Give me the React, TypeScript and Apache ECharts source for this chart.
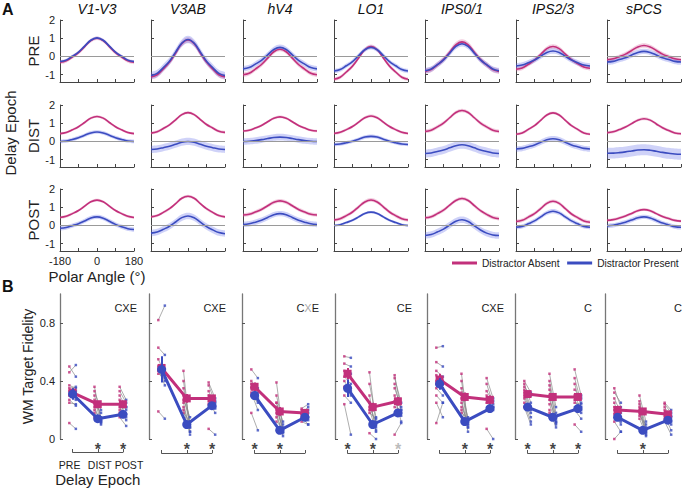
import React, { useEffect, useRef } from 'react';
import * as echarts from 'echarts';

// ---------------- DATA ----------------
const regions = ['V1-V3', 'V3AB', 'hV4', 'LO1', 'IPS0/1', 'IPS2/3', 'sPCS'];
const epochs = ['PRE', 'DIST', 'POST'];
const angles = [-180, -150, -120, -90, -60, -30, 0, 30, 60, 90, 120, 150, 180];
const angleTickLabels = ['-180', '0', '180'];
const tuningTicks = [-1, 0, 1, 2];
const fidelityTicks = [0, 0.4, 0.8];

// Panel A tuning curves (per region), Distractor Absent
const absentPre = [
  [-0.32, -0.24, -0.03, 0.21, 0.54, 0.87, 1.0, 0.87, 0.54, 0.21, -0.03, -0.24, -0.32],
  [-1.12, -1.0, -0.68, -0.31, 0.19, 0.7, 0.9, 0.7, 0.19, -0.31, -0.68, -1.0, -1.12],
  [-1.0, -0.92, -0.69, -0.44, -0.09, 0.26, 0.4, 0.26, -0.09, -0.44, -0.69, -0.92, -1.0],
  [-1.25, -1.14, -0.85, -0.53, -0.08, 0.37, 0.55, 0.37, -0.08, -0.53, -0.85, -1.14, -1.25],
  [-0.82, -0.72, -0.46, -0.17, 0.23, 0.64, 0.8, 0.64, 0.23, -0.17, -0.46, -0.72, -0.82],
  [-0.7, -0.63, -0.43, -0.2, 0.11, 0.43, 0.55, 0.43, 0.13, -0.17, -0.39, -0.58, -0.65],
  [-0.18, -0.13, -0.01, 0.13, 0.33, 0.52, 0.6, 0.52, 0.33, 0.13, -0.01, -0.13, -0.18],
];
const absentDist = [
  [0.43, 0.49, 0.64, 0.81, 1.04, 1.28, 1.37, 1.28, 1.04, 0.81, 0.64, 0.49, 0.43],
  [0.46, 0.53, 0.71, 0.91, 1.19, 1.47, 1.58, 1.47, 1.2, 0.93, 0.74, 0.56, 0.5],
  [0.57, 0.62, 0.74, 0.88, 1.08, 1.27, 1.35, 1.27, 1.08, 0.88, 0.74, 0.62, 0.57],
  [0.44, 0.5, 0.65, 0.82, 1.06, 1.3, 1.4, 1.3, 1.06, 0.82, 0.65, 0.5, 0.44],
  [0.55, 0.62, 0.8, 1.01, 1.3, 1.59, 1.7, 1.59, 1.3, 1.01, 0.8, 0.62, 0.55],
  [0.4, 0.47, 0.66, 0.87, 1.16, 1.45, 1.57, 1.45, 1.16, 0.87, 0.66, 0.47, 0.4],
  [0.48, 0.53, 0.65, 0.79, 0.98, 1.17, 1.25, 1.17, 0.96, 0.75, 0.6, 0.47, 0.42],
];
const absentPost = [
  [0.44, 0.5, 0.65, 0.82, 1.06, 1.3, 1.39, 1.3, 1.06, 0.82, 0.65, 0.5, 0.44],
  [0.47, 0.54, 0.72, 0.92, 1.2, 1.49, 1.6, 1.49, 1.2, 0.92, 0.72, 0.54, 0.47],
  [0.57, 0.62, 0.74, 0.88, 1.08, 1.27, 1.35, 1.27, 1.08, 0.88, 0.74, 0.62, 0.57],
  [0.3, 0.37, 0.54, 0.74, 1.02, 1.29, 1.4, 1.29, 1.02, 0.74, 0.54, 0.37, 0.3],
  [0.42, 0.48, 0.65, 0.84, 1.11, 1.37, 1.48, 1.37, 1.09, 0.81, 0.61, 0.44, 0.37],
  [0.22, 0.28, 0.46, 0.65, 0.92, 1.21, 1.33, 1.21, 0.92, 0.63, 0.43, 0.25, 0.18],
  [0.28, 0.32, 0.41, 0.52, 0.66, 0.81, 0.87, 0.81, 0.65, 0.49, 0.38, 0.28, 0.24],
];
// Distractor Present
const presentPre = [
  [-0.28, -0.2, 0.01, 0.24, 0.57, 0.89, 1.02, 0.89, 0.57, 0.24, 0.01, -0.2, -0.28],
  [-1.05, -0.93, -0.61, -0.26, 0.24, 0.73, 0.93, 0.73, 0.24, -0.26, -0.61, -0.93, -1.05],
  [-0.68, -0.61, -0.42, -0.21, 0.09, 0.38, 0.5, 0.38, 0.09, -0.21, -0.42, -0.61, -0.68],
  [-0.8, -0.72, -0.51, -0.28, 0.05, 0.37, 0.5, 0.37, 0.05, -0.28, -0.51, -0.72, -0.8],
  [-0.78, -0.69, -0.45, -0.19, 0.18, 0.55, 0.7, 0.55, 0.18, -0.19, -0.45, -0.69, -0.78],
  [-0.52, -0.47, -0.34, -0.19, 0.01, 0.22, 0.3, 0.22, 0.01, -0.19, -0.34, -0.47, -0.52],
  [-0.3, -0.27, -0.17, -0.07, 0.08, 0.22, 0.28, 0.22, 0.08, -0.07, -0.17, -0.27, -0.3],
];
const presentDist = [
  [0.0, 0.03, 0.11, 0.21, 0.34, 0.47, 0.52, 0.47, 0.34, 0.21, 0.11, 0.03, 0.0],
  [-0.44, -0.41, -0.34, -0.26, -0.15, -0.04, 0.0, -0.04, -0.15, -0.26, -0.34, -0.41, -0.44],
  [0.0, 0.01, 0.05, 0.1, 0.16, 0.22, 0.24, 0.22, 0.16, 0.1, 0.05, 0.01, 0.0],
  [-0.17, -0.14, -0.07, 0.01, 0.12, 0.24, 0.28, 0.24, 0.12, 0.01, -0.07, -0.14, -0.17],
  [-0.66, -0.63, -0.55, -0.47, -0.35, -0.23, -0.18, -0.23, -0.35, -0.47, -0.55, -0.63, -0.66],
  [-0.41, -0.38, -0.29, -0.19, -0.05, 0.09, 0.15, 0.09, -0.05, -0.19, -0.29, -0.38, -0.41],
  [-0.65, -0.64, -0.61, -0.57, -0.52, -0.47, -0.45, -0.48, -0.54, -0.6, -0.65, -0.69, -0.7],
];
const presentPost = [
  [-0.15, -0.11, -0.01, 0.1, 0.25, 0.41, 0.47, 0.4, 0.23, 0.06, -0.07, -0.18, -0.22],
  [-0.42, -0.36, -0.21, -0.04, 0.19, 0.43, 0.52, 0.42, 0.18, -0.06, -0.24, -0.39, -0.45],
  [0.05, 0.09, 0.18, 0.29, 0.44, 0.59, 0.65, 0.59, 0.44, 0.29, 0.18, 0.09, 0.05],
  [0.0, 0.04, 0.16, 0.29, 0.47, 0.66, 0.73, 0.66, 0.47, 0.29, 0.16, 0.04, 0.0],
  [-0.55, -0.5, -0.36, -0.2, 0.02, 0.23, 0.31, 0.22, -0.02, -0.25, -0.42, -0.52, -0.55],
  [-0.1, -0.05, 0.09, 0.25, 0.47, 0.69, 0.78, 0.69, 0.47, 0.25, 0.09, -0.05, -0.1],
  [-0.02, 0.01, 0.09, 0.18, 0.3, 0.42, 0.47, 0.41, 0.27, 0.13, 0.03, -0.07, -0.1],
];
// half-width of the shaded error band, per epoch row, per region
const bandAbsent = [
  [0.1, 0.15, 0.12, 0.1, 0.15, 0.12, 0.12],
  [0.07, 0.08, 0.07, 0.08, 0.1, 0.08, 0.08],
  [0.07, 0.08, 0.1, 0.1, 0.1, 0.1, 0.08],
];
const bandPresent = [
  [0.08, 0.2, 0.15, 0.12, 0.15, 0.15, 0.15],
  [0.1, 0.2, 0.18, 0.1, 0.22, 0.15, 0.3],
  [0.12, 0.18, 0.15, 0.07, 0.18, 0.12, 0.12],
];

// Panel B: WM target fidelity means [PRE, DIST, POST] per region
const meanAbsent = [
  [0.32, 0.24, 0.24], [0.49, 0.28, 0.28], [0.36, 0.19, 0.18], [0.45, 0.22, 0.26],
  [0.41, 0.29, 0.27], [0.31, 0.29, 0.29], [0.2, 0.19, 0.17],
];
const meanPresent = [
  [0.31, 0.14, 0.17], [0.48, 0.1, 0.23], [0.3, 0.06, 0.15], [0.35, 0.1, 0.18],
  [0.38, 0.12, 0.21], [0.22, 0.15, 0.21], [0.15, 0.06, 0.13],
];
const semAbsent = [
  [0.03, 0.02, 0.02], [0.04, 0.03, 0.02], [0.03, 0.03, 0.02], [0.04, 0.03, 0.03],
  [0.04, 0.03, 0.03], [0.02, 0.02, 0.02], [0.03, 0.02, 0.02],
];
const semPresent = [
  [0.04, 0.02, 0.02], [0.09, 0.02, 0.02], [0.03, 0.02, 0.02], [0.06, 0.02, 0.02],
  [0.04, 0.02, 0.02], [0.02, 0.02, 0.02], [0.02, 0.02, 0.02],
];
// individual subjects [region][epoch][subject]
const subjAbsent = [
  [[0.5, 0.46, 0.37, 0.35, 0.33, 0.3, 0.27, 0.25, 0.11], [0.36, 0.33, 0.3, 0.27, 0.24, 0.22, 0.2, 0.18, 0.15], [0.36, 0.33, 0.3, 0.27, 0.24, 0.22, 0.2, 0.18, 0.15]],
  [[0.82, 0.63, 0.55, 0.5, 0.47, 0.45, 0.48, 0.19], [0.47, 0.4, 0.35, 0.3, 0.27, 0.25, 0.22, 0.2, 0.18], [0.39, 0.37, 0.33, 0.3, 0.28, 0.26, 0.24, 0.07]],
  [[0.48, 0.4, 0.38, 0.36, 0.35, 0.3, 0.32, 0.18], [0.39, 0.3, 0.25, 0.22, 0.2, 0.18, 0.15, 0.12, 0.25], [0.21, 0.18, 0.17, 0.15, 0.14, 0.12, 0.2, 0.17]],
  [[0.57, 0.52, 0.47, 0.43, 0.4, 0.36, 0.3, 0.24], [0.46, 0.38, 0.3, 0.25, 0.22, 0.2, 0.18, 0.04], [0.44, 0.42, 0.38, 0.35, 0.3, 0.26, 0.22, 0.03]],
  [[0.63, 0.53, 0.47, 0.44, 0.4, 0.38, 0.35, 0.3, 0.25, 0.11], [0.45, 0.4, 0.35, 0.32, 0.28, 0.25, 0.22, 0.2, 0.18], [0.42, 0.38, 0.33, 0.3, 0.28, 0.25, 0.07]],
  [[0.4, 0.38, 0.36, 0.34, 0.32, 0.3, 0.28, 0.25, 0.22], [0.45, 0.4, 0.37, 0.34, 0.3, 0.27, 0.24, 0.2, 0.18], [0.48, 0.42, 0.38, 0.34, 0.3, 0.27, 0.25, 0.2, 0.1]],
  [[0.35, 0.32, 0.28, 0.25, 0.22, 0.2, 0.17, 0.12, 0.0], [0.3, 0.26, 0.24, 0.22, 0.2, 0.18, 0.16, 0.14], [0.25, 0.24, 0.22, 0.2, 0.18, 0.16, 0.14, 0.12]],
];
const subjPresent = [
  [[0.43, 0.51, 0.35, 0.36, 0.33, 0.27, 0.23, 0.24, 0.07], [0.13, 0.2, 0.15, 0.12, 0.18, 0.11, 0.13, 0.1, 0.12], [0.27, 0.25, 0.22, 0.2, 0.17, 0.13, 0.22, 0.15, 0.09]],
  [[0.92, 0.58, 0.45, 0.48, 0.4, 0.42, 0.37, 0.14], [0.05, 0.08, 0.12, 0.1, 0.15, 0.05, 0.08, 0.03, 0.12], [0.28, 0.25, 0.23, 0.21, 0.26, 0.18, 0.22, 0.03]],
  [[0.42, 0.35, 0.3, 0.32, 0.28, 0.25, 0.2, 0.06], [0.05, 0.1, 0.04, 0.06, 0.08, 0.02, 0.05, 0.07, 0.12], [0.24, 0.22, 0.13, 0.1, 0.2, 0.1, 0.15, 0.18]],
  [[0.56, 0.5, 0.45, 0.38, 0.33, 0.3, 0.25, 0.03], [0.1, 0.15, 0.05, 0.08, 0.12, 0.06, 0.14, 0.0], [0.2, 0.25, 0.18, 0.22, 0.12, 0.16, 0.2, 0.11]],
  [[0.64, 0.5, 0.43, 0.4, 0.35, 0.38, 0.3, 0.25, 0.15, 0.25], [0.1, 0.12, 0.08, 0.15, 0.05, 0.1, 0.12, 0.08, 0.14], [0.28, 0.24, 0.26, 0.22, 0.2, 0.22, 0.0]],
  [[0.32, 0.25, 0.3, 0.22, 0.2, 0.18, 0.15, 0.12, 0.1], [0.22, 0.18, 0.12, 0.15, 0.1, 0.14, 0.11, 0.08, 0.12], [0.3, 0.25, 0.22, 0.28, 0.2, 0.18, 0.24, 0.14, 0.05]],
  [[0.22, 0.25, 0.18, 0.12, 0.15, 0.1, 0.14, 0.05, 0.05], [0.12, 0.08, 0.04, 0.06, 0.02, 0.05, 0.1, 0.03], [0.2, 0.18, 0.15, 0.1, 0.12, 0.06, 0.16, 0.03]],
];
// significance stars per epoch: '' none, 'k' black, 'g' grey
const stars = [
  ['', 'k', 'k'], ['', 'k', 'k'], ['k', 'k', ''], ['k', 'k', 'g'],
  ['', 'k', 'k'], ['k', 'k', 'k'], ['', 'k', ''],
];
// effect labels (C, X, E); greyX marks a grey X
const effects = ['CXE', 'CXE', 'CXE', 'CE', 'CXE', 'C', 'C'];
const greyX = [false, false, true, false, false, false, false];

// ---------------- LAYOUT / STYLE ----------------
const RED = '#c2307b';
const BLUE = '#3b4cc0';
const RED_BAND = 'rgba(212, 88, 150, 0.30)';
const BLUE_BAND = 'rgba(95, 105, 232, 0.30)';
const AXIS = '#444';
const FONT = '"Liberation Sans", Arial, Helvetica, sans-serif';
const aLeft = [60, 151, 243, 334, 425, 516, 607];
const aTop = [20, 105, 189];
const aW = 74;
const aH = 62;
const bLeft = [60, 149, 242, 335, 427, 515, 605];
const bTop = 294;
const bH = 145;
const bW = 78;
const jitter = 0.13;

function buildOption() {
  const grid: any[] = [];
  const xAxis: any[] = [];
  const yAxis: any[] = [];
  const series: any[] = [];
  const graphic: any[] = [];
  const curvesA = [absentPre, absentDist, absentPost];
  const curvesP = [presentPre, presentDist, presentPost];

  // ---- Panel A ----
  for (let r = 0; r < 3; r++) {
    for (let c = 0; c < 7; c++) {
      const gi = grid.length;
      grid.push({ left: aLeft[c], top: aTop[r], width: aW, height: aH });
      const showX = r === 2 && c === 0;
      xAxis.push({
        gridIndex: gi, type: 'category', data: angles.map(String), boundaryGap: false,
        axisLine: { show: true, onZero: false, lineStyle: { color: AXIS, width: 1 } },
        axisTick: { show: true, inside: true, length: 3, interval: 2, lineStyle: { color: AXIS } },
        axisLabel: {
          show: showX, interval: 2, fontSize: 11, color: '#222', margin: 4, fontFamily: FONT,
          formatter: (v: string) => (angleTickLabels.indexOf(v) >= 0 ? v : ''),
        },
        splitLine: { show: false },
        name: showX ? 'Polar Angle (°)' : '', nameLocation: 'middle', nameGap: 18,
        nameTextStyle: { fontSize: 15, color: '#222', fontFamily: FONT },
      });
      yAxis.push({
        gridIndex: gi, type: 'value', min: -1.4, max: 2,
        axisLine: { show: true, onZero: false, lineStyle: { color: AXIS, width: 1 } },
        axisTick: { show: true, inside: true, length: 3, customValues: tuningTicks, lineStyle: { color: AXIS } },
        axisLabel: { show: c === 0, customValues: tuningTicks, fontSize: 11, color: '#222', margin: 5, fontFamily: FONT },
        splitLine: { show: false },
        name: c === 0 ? epochs[r] : '', nameLocation: 'middle', nameGap: 17,
        nameTextStyle: { fontSize: 15, color: '#222', fontFamily: FONT },
      });
      const sets = [
        { m: curvesA[r][c], e: bandAbsent[r][c], band: RED_BAND, line: RED, name: 'Distractor Absent' },
        { m: curvesP[r][c], e: bandPresent[r][c], band: BLUE_BAND, line: BLUE, name: 'Distractor Present' },
      ];
      sets.forEach((s, k) => {
        const stack = `band-${gi}-${k}`;
        series.push({
          type: 'line', xAxisIndex: gi, yAxisIndex: gi, stack, stackStrategy: 'all',
          data: s.m.map((v) => v - s.e), smooth: 0.4, symbol: 'none', silent: true,
          lineStyle: { opacity: 0, width: 0 },
          markLine: k === 0 ? {
            silent: true, symbol: 'none', label: { show: false },
            lineStyle: { color: '#9a9a9a', width: 1, type: 'solid' }, data: [{ yAxis: 0 }],
          } : undefined,
        });
        series.push({
          type: 'line', xAxisIndex: gi, yAxisIndex: gi, stack, stackStrategy: 'all',
          data: s.m.map(() => 2 * s.e), smooth: 0.4, symbol: 'none', silent: true,
          lineStyle: { opacity: 0, width: 0 }, areaStyle: { color: s.band, opacity: 1 },
        });
      });
      sets.forEach((s) => {
        series.push({
          name: s.name, type: 'line', xAxisIndex: gi, yAxisIndex: gi,
          data: s.m, smooth: 0.4, symbol: 'none',
          lineStyle: { color: s.line, width: 1.6 }, itemStyle: { color: s.line }, z: 3,
        });
      });
    }
  }

  // column titles
  regions.forEach((name, c) => {
    graphic.push({
      type: 'text', x: aLeft[c] + aW / 2, y: 9,
      style: { text: name, fontSize: 14, fontStyle: 'italic', fill: '#111', fontFamily: FONT, align: 'center', verticalAlign: 'middle' },
    });
  });

  // ---- Panel B ----
  for (let c = 0; c < 7; c++) {
    const gi = grid.length;
    grid.push({ left: bLeft[c], top: bTop, width: bW, height: bH });
    xAxis.push({ gridIndex: gi, type: 'value', min: -0.5, max: 2.6, show: false });
    yAxis.push({
      gridIndex: gi, type: 'value', min: 0, max: 1,
      axisLine: { show: true, onZero: false, lineStyle: { color: '#777', width: 1.3 } },
      axisTick: { show: true, inside: true, length: 3, customValues: fidelityTicks, lineStyle: { color: '#555' } },
      axisLabel: { show: c === 0, customValues: fidelityTicks, fontSize: 11, color: '#222', margin: 5, fontFamily: FONT },
      splitLine: { show: false },
      name: c === 0 ? 'WM Target Fidelity' : '', nameLocation: 'middle', nameGap: 25,
      nameTextStyle: { fontSize: 14, color: '#222', fontFamily: FONT },
    });
    const lines: any[] = [];
    const dotsA: any[] = [];
    const dotsP: any[] = [];
    for (let e = 0; e < 3; e++) {
      subjAbsent[c][e].forEach((va, i) => {
        const vp = subjPresent[c][e][i];
        lines.push({ coords: [[e - jitter, va], [e + jitter, vp]] });
        dotsA.push([e - jitter, va]);
        dotsP.push([e + jitter, vp]);
      });
    }
    series.push({
      type: 'lines', coordinateSystem: 'cartesian2d', xAxisIndex: gi, yAxisIndex: gi, silent: true,
      data: lines, lineStyle: { color: '#8a8a8a', width: 0.7, opacity: 1 }, z: 1,
    });
    series.push({
      type: 'scatter', xAxisIndex: gi, yAxisIndex: gi, data: dotsA, symbolSize: 2.5, symbol: 'rect',
      itemStyle: { color: RED }, silent: true, z: 2,
    });
    series.push({
      type: 'scatter', xAxisIndex: gi, yAxisIndex: gi, data: dotsP, symbolSize: 2.5, symbol: 'rect',
      itemStyle: { color: BLUE }, silent: true, z: 2,
    });
    const errA = [0, 1, 2].map((e) => ({ coords: [[e, meanAbsent[c][e] - semAbsent[c][e]], [e, meanAbsent[c][e] + semAbsent[c][e]]] }));
    const errP = [0, 1, 2].map((e) => ({ coords: [[e, meanPresent[c][e] - semPresent[c][e]], [e, meanPresent[c][e] + semPresent[c][e]]] }));
    series.push({
      type: 'lines', coordinateSystem: 'cartesian2d', xAxisIndex: gi, yAxisIndex: gi, silent: true,
      data: errA, lineStyle: { color: RED, width: 2, opacity: 1 }, z: 3,
    });
    series.push({
      type: 'line', xAxisIndex: gi, yAxisIndex: gi, data: meanAbsent[c].map((v, e) => [e, v]),
      symbol: 'rect', symbolSize: 8, lineStyle: { color: RED, width: 3 }, itemStyle: { color: RED }, z: 4, silent: true,
    });
    series.push({
      type: 'lines', coordinateSystem: 'cartesian2d', xAxisIndex: gi, yAxisIndex: gi, silent: true,
      data: errP, lineStyle: { color: BLUE, width: 2, opacity: 1 }, z: 5,
    });
    series.push({
      type: 'line', xAxisIndex: gi, yAxisIndex: gi, data: meanPresent[c].map((v, e) => [e, v]),
      symbol: 'circle', symbolSize: 9, lineStyle: { color: BLUE, width: 3 }, itemStyle: { color: BLUE }, z: 6, silent: true,
    });
    // effect label
    const txt = greyX[c] ? '{k|C}{g|X}{k|E}' : `{k|${effects[c]}}`;
    graphic.push({
      type: 'text', x: bLeft[c] + bW - 1, y: 308,
      style: {
        text: txt, fontFamily: FONT, align: 'right', verticalAlign: 'middle',
        rich: { k: { fontSize: 11, fill: '#222', fontFamily: FONT }, g: { fontSize: 11, fill: '#aaa', fontFamily: FONT } },
      },
    });
  }

  // ---- Panel B brackets with stars ----
  for (let c = 0; c < 7; c++) {
    const gi = grid.length;
    grid.push({ left: bLeft[c] + 12.6, top: 440, width: 50.4, height: 13 });
    xAxis.push({
      gridIndex: gi, type: 'category', data: epochs, boundaryGap: false,
      axisLine: { show: true, lineStyle: { color: '#555', width: 1 } },
      axisTick: { show: true, inside: true, length: 3, lineStyle: { color: '#555' } },
      axisLabel: {
        show: c === 0, interval: 0, fontSize: 10.5, color: '#222', margin: 7, fontFamily: FONT,
        formatter: (v: string) => (v === 'PRE' ? '{l|PRE}' : v === 'POST' ? '{r|POST}' : '{m|' + v + '}'),
        rich: {
          l: { fontSize: 10.5, color: '#222', padding: [0, 6, 0, 0], fontFamily: FONT },
          m: { fontSize: 10.5, color: '#222', padding: [0, 0, 0, 4], fontFamily: FONT },
          r: { fontSize: 10.5, color: '#222', padding: [0, 0, 0, 12], fontFamily: FONT },
        },
      },
      name: c === 0 ? 'Delay Epoch' : '', nameLocation: 'middle', nameGap: 20,
      nameTextStyle: { fontSize: 15, color: '#222', fontFamily: FONT },
    });
    yAxis.push({ gridIndex: gi, type: 'value', min: 0, max: 1, show: false });
    const starData: any[] = [];
    stars[c].forEach((s, e) => {
      if (s) {
        starData.push({
          value: [e, 0.25],
          label: { color: s === 'g' ? '#aaa' : '#111' },
        });
      }
    });
    series.push({
      type: 'scatter', xAxisIndex: gi, yAxisIndex: gi, data: starData, symbolSize: 0, silent: true,
      label: { show: true, formatter: '*', position: 'inside', fontSize: 16, lineHeight: 10, fontWeight: 'bold', fontFamily: FONT },
    });
  }

  graphic.push(
    { type: 'text', x: 2, y: 1, style: { text: 'A', fontSize: 16, fontWeight: 'bold', fill: '#111', fontFamily: FONT } },
    { type: 'text', x: 2, y: 278, style: { text: 'B', fontSize: 16, fontWeight: 'bold', fill: '#111', fontFamily: FONT } },
    {
      type: 'text', x: 10, y: 133, rotation: Math.PI / 2,
      style: { text: 'Delay Epoch', fontSize: 15, fill: '#222', fontFamily: FONT, align: 'center', verticalAlign: 'middle' },
    },
  );

  return {
    animation: false,
    backgroundColor: '#fff',
    textStyle: { fontFamily: FONT },
    legend: {
      left: 452, top: 258, width: 240, padding: 0, itemWidth: 25, itemHeight: 3, icon: 'rect', itemGap: 7,
      data: ['Distractor Absent', 'Distractor Present'],
      textStyle: { fontSize: 10.2, color: '#222', fontFamily: FONT },
      selectedMode: false,
    },
    grid, xAxis, yAxis, series, graphic,
  };
}

export default function App() {
  const ref = useRef<HTMLDivElement>(null);
  useEffect(() => {
    if (!ref.current) return;
    const chart = echarts.init(ref.current, null, { renderer: 'svg' });
    chart.setOption(buildOption() as any);
    return () => chart.dispose();
  }, []);
  return <div ref={ref} style={{ position: 'fixed', left: 0, top: 0, width: 685, height: 488 }} />;
}
